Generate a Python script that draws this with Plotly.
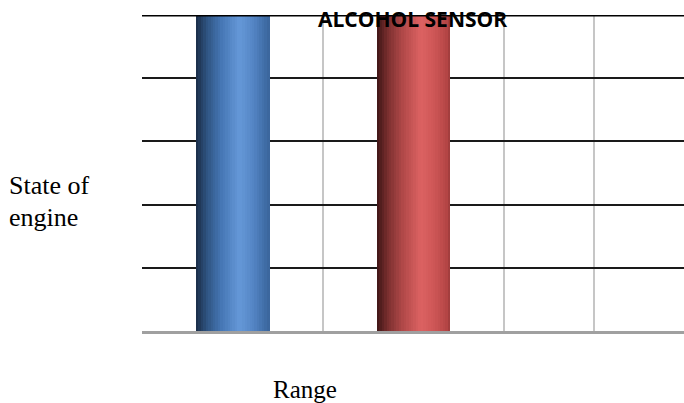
import plotly.graph_objects as go

# Chart data
categories = [1, 3]          # category centre positions on the x axis
series_names = ["Series 1", "Series 2"]
values = [5, 5]              # state of engine for each range
y_ticks = [0, 1, 2, 3, 4, 5]
x_grid = [0, 1, 2, 3, 4, 5]

title_text = "ALCOHOL SENSOR"
y_title = ["State of", "engine"]
x_title = "Range"

# Cylinder-style shading stops (position across bar, colour)
blue_stops = [(0.0, (26, 44, 69)), (0.15, (47, 84, 130)), (0.35, (70, 119, 181)),
              (0.6, (101, 152, 216)), (0.8, (82, 131, 194)), (0.95, (63, 108, 165)),
              (1.0, (58, 100, 154))]
red_stops = [(0.0, (62, 21, 22)), (0.15, (122, 47, 47)), (0.35, (176, 72, 72)),
             (0.6, (220, 98, 98)), (0.8, (204, 85, 85)), (0.95, (180, 69, 69)),
             (1.0, (154, 58, 58))]


def shade(stops, t):
    for (t0, c0), (t1, c1) in zip(stops[:-1], stops[1:]):
        if t0 <= t <= t1:
            f = (t - t0) / (t1 - t0) if t1 > t0 else 0
            c = [round(a + (b - a) * f) for a, b in zip(c0, c1)]
            return f"rgb({c[0]},{c[1]},{c[2]})"
    c = stops[-1][1]
    return f"rgb({c[0]},{c[1]},{c[2]})"


bar_width = 0.81
n_slices = 30
slice_w = bar_width / n_slices

fig = go.Figure()
for i in range(n_slices):
    t = (i + 0.5) / n_slices
    fig.add_trace(go.Bar(
        x=categories,
        y=values,
        width=[slice_w * 1.15] * len(categories),
        offset=[-bar_width / 2 + i * slice_w] * len(categories),
        marker=dict(color=[shade(blue_stops, t), shade(red_stops, t)], line=dict(width=0)),
        showlegend=False,
        hoverinfo="skip",
    ))

# Heavy top border of the plot area
fig.add_shape(type="line", xref="paper", yref="y", x0=0, x1=1, y0=5, y1=5,
              line=dict(color="black", width=3), layer="above")

fig.add_annotation(text=f"<b>{title_text}</b>", xref="paper", yref="paper",
                   x=(412 - 142) / 542, xanchor="center", y=1.0, yanchor="middle",
                   yshift=-4, showarrow=False,
                   font=dict(family="Open Sans", size=21, color="black"))

fig.add_annotation(text=y_title[0], xref="paper", yref="paper", x=0, xshift=-135,
                   xanchor="left", y=(331 - 185) / 316, yanchor="middle", showarrow=False,
                   font=dict(family="Liberation Serif", size=26, color="black"))
fig.add_annotation(text=y_title[1], xref="paper", yref="paper", x=0, xshift=-135,
                   xanchor="left", y=(331 - 217) / 316, yanchor="middle", showarrow=False,
                   font=dict(family="Liberation Serif", size=26, color="black"))
fig.add_annotation(text=x_title, xref="paper", yref="paper", x=(305 - 142) / 542,
                   xanchor="center", y=-(389 - 331) / 316, yanchor="middle", showarrow=False,
                   font=dict(family="Liberation Serif", size=25, color="black"))

fig.update_layout(
    width=684, height=403,
    margin=dict(l=142, r=0, t=15, b=72),
    paper_bgcolor="white", plot_bgcolor="white",
    barmode="overlay", bargap=0,
    xaxis=dict(range=[0, 5.99], tickvals=x_grid, showticklabels=False,
               showgrid=True, gridcolor="#c6c6c6", gridwidth=2,
               zeroline=False, showline=True, linecolor="#a0a0a0", linewidth=3,
               ticks="", fixedrange=True),
    yaxis=dict(range=[0, 5], tickvals=y_ticks, showticklabels=False,
               showgrid=True, gridcolor="#1a1a1a", gridwidth=2,
               zeroline=False, showline=False, ticks="", fixedrange=True),
)

fig.write_html("out.html")
